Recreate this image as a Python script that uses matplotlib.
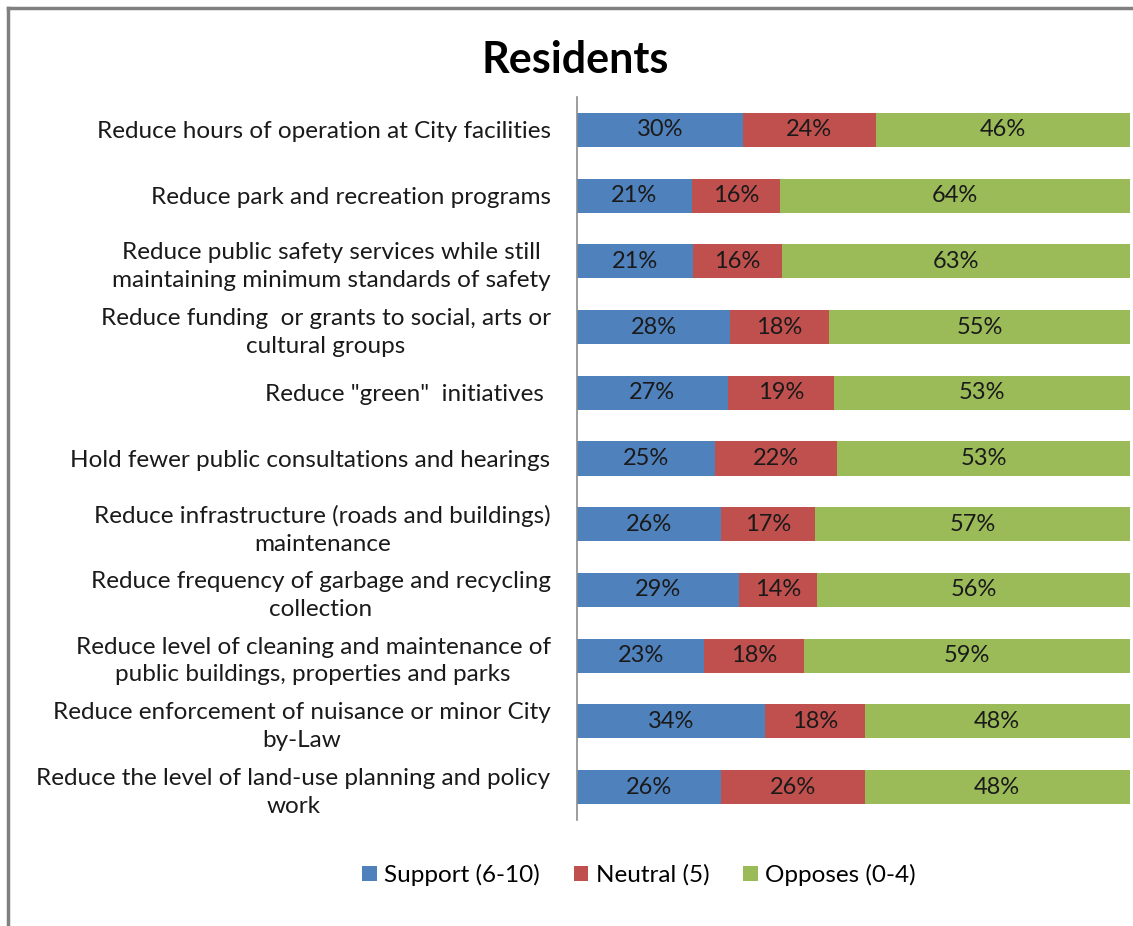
import numpy as np
import matplotlib
matplotlib.use("Agg")
import matplotlib.pyplot as plt

plt.rcParams['font.family'] = ['Lato', 'DejaVu Sans']

categories = [
    "Reduce hours of operation at City facilities",
    "Reduce park and recreation programs",
    "Reduce public safety services while still\nmaintaining minimum standards of safety",
    "Reduce funding  or grants to social, arts or\ncultural groups",
    "Reduce \"green\"  initiatives ",
    "Hold fewer public consultations and hearings",
    "Reduce infrastructure (roads and buildings)\nmaintenance",
    "Reduce frequency of garbage and recycling\ncollection",
    "Reduce level of cleaning and maintenance of\npublic buildings, properties and parks",
    "Reduce enforcement of nuisance or minor City\nby-Law",
    "Reduce the level of land-use planning and policy\nwork",
]
support = [30, 21, 21, 28, 27, 25, 26, 29, 23, 34, 26]
neutral = [24, 16, 16, 18, 19, 22, 17, 14, 18, 18, 26]
opposes = [46, 64, 63, 55, 53, 53, 57, 56, 59, 48, 48]

series_names = ["Support (6-10)", "Neutral (5)", "Opposes (0-4)"]
colors = ["#4F81BD", "#C0504D", "#9BBB59"]

data = np.array([support, neutral, opposes], dtype=float)
shares = data / data.sum(axis=0)  # 100% stacked

fig = plt.figure(figsize=(11.33, 9.26), dpi=100)
ax = fig.add_axes([577 / 1133, 1 - 820 / 926, (1130 - 577) / 1133, (820 - 97) / 926])

y = np.arange(len(categories))
left = np.zeros(len(categories))
for i in range(3):
    ax.barh(y, shares[i], left=left, height=0.52, color=colors[i],
            label=series_names[i], edgecolor='none')
    for j in range(len(categories)):
        ax.text(left[j] + shares[i][j] / 2, y[j], f"{int(data[i][j])}%",
                ha='center', va='center', fontsize=17, color='#1a1a1a')
    left += shares[i]

ax.set_xlim(0, 1)
ax.set_ylim(len(categories) - 0.5, -0.5)
ax.set_yticks(y)
ax.set_yticklabels(categories, fontsize=17.5, color='#1a1a1a',
                   multialignment='center', linespacing=1.4)
ax.tick_params(axis='y', length=0, pad=19)
ax.set_xticks([])
for s in ['top', 'right', 'bottom']:
    ax.spines[s].set_visible(False)
ax.spines['left'].set_color('#8c8c8c')
ax.spines['left'].set_linewidth(1.2)

fig.text(575 / 1133, 1 - 60 / 926, "Residents", ha='center', va='center',
         fontsize=31, fontweight='bold', color='black')

fig.legend(loc='center', bbox_to_anchor=(639 / 1133, 1 - 875 / 926), ncol=3,
           frameon=False, fontsize=17.5, handlelength=0.6, handleheight=0.6,
           handletextpad=0.3, columnspacing=1.4)

# outer chart frame (top and left edges show)
fig.add_artist(plt.Line2D([8 / 1133, 8 / 1133], [0, 1 - 8 / 926], transform=fig.transFigure,
                          color='#808080', linewidth=2.5))
fig.add_artist(plt.Line2D([8 / 1133, 1], [1 - 8 / 926, 1 - 8 / 926], transform=fig.transFigure,
                          color='#808080', linewidth=2.5))

fig.savefig("out.png", dpi=100, facecolor='white')
